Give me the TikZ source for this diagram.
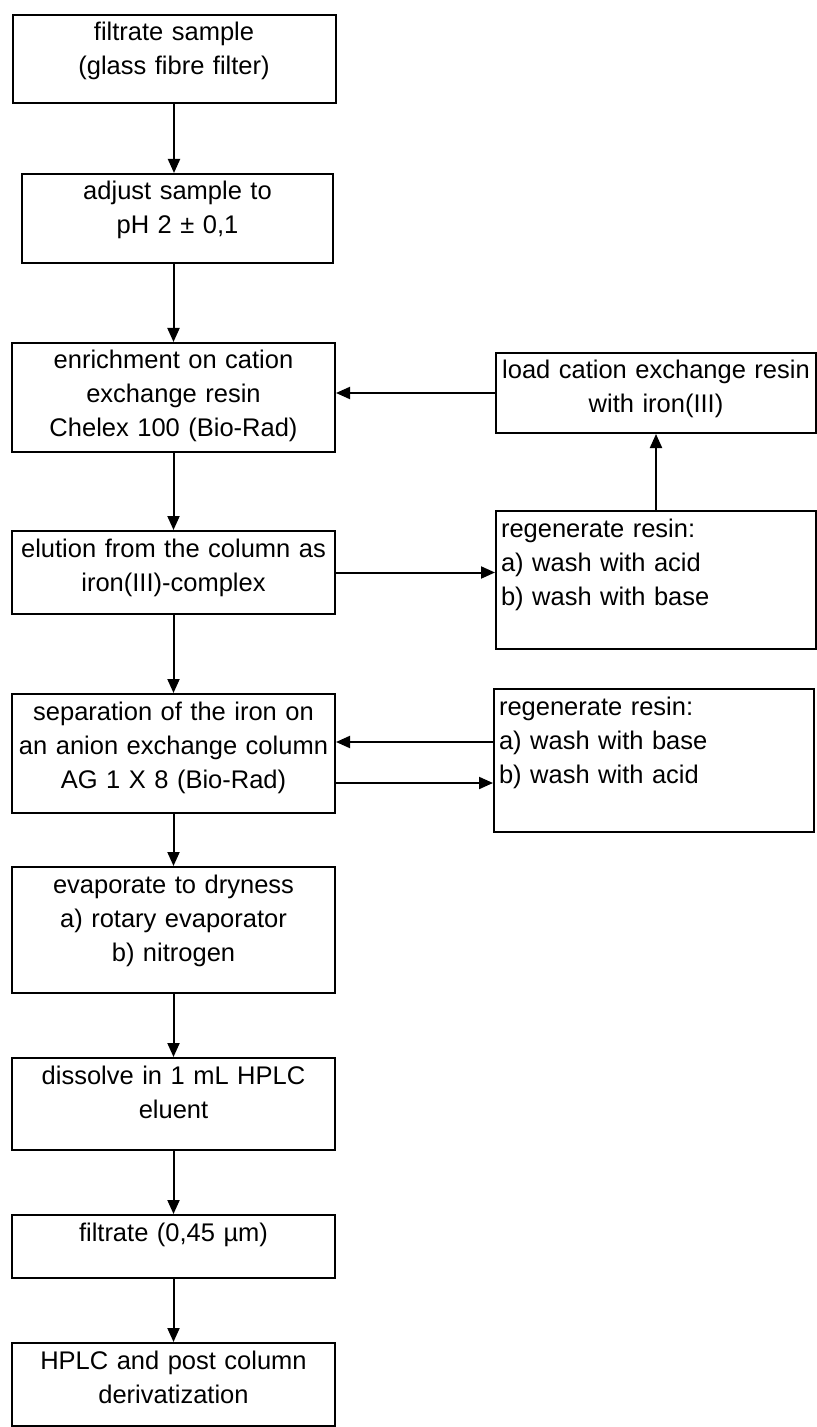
\documentclass[tikz,border=0pt]{standalone}
\usepackage{fontspec}
\setmainfont{Liberation Sans}
\usetikzlibrary{arrows.meta}
\begin{document}
\begin{tikzpicture}[x=0.5pt,y=-0.5pt,
  stepbox/.style={draw,rectangle,line width=1pt,anchor=north,inner xsep=2pt,inner ysep=0pt,
    text width=157.5pt,align=center,text height=13pt,font=\fontsize{12.75pt}{17pt}\selectfont},
  sidebox/.style={stepbox,text width=155pt,inner xsep=2.5pt},
  flow/.style={line width=1pt,-{Triangle[width=6pt,length=7pt]}}]
\useasboundingbox (0,0) rectangle (816,1427);
% main column
\node[stepbox,text depth=31pt] (sample) at (174,14) {filtrate sample\\(glass fibre filter)};
\node[stepbox,text width=151.5pt,text depth=31.5pt] (adjust) at (177.5,173) {adjust sample to\\pH 2 ± 0,1};
\node[stepbox,text depth=41.5pt] (enrich) at (173.5,342) {enrichment on cation\\exchange resin\\Chelex 100 (Bio-Rad)};
\node[stepbox,text depth=28.5pt] (elution) at (173.5,530) {elution from the column as\\iron(III)-complex};
\node[stepbox,text depth=46.5pt] (separation) at (173.5,693) {separation of the iron on\\an anion exchange column\\AG 1 X 8 (Bio-Rad)};
\node[stepbox,text depth=50pt] (evaporate) at (173.5,866) {evaporate to dryness\\a) rotary evaporator\\b) nitrogen};
\node[stepbox,text depth=33pt] (dissolve) at (173.5,1057) {dissolve in 1 mL HPLC\\eluent};
\node[stepbox,text depth=18.5pt] (filtrate) at (173.5,1214) {filtrate (0,45 µm)};
\node[stepbox,text depth=28.5pt] (hplc) at (173.5,1342) {HPLC and post column\\derivatization};
% side column
\node[sidebox,text depth=27pt] (load) at (656,352) {load cation exchange resin\\with iron(III)};
\node[sidebox,align=left,text depth=56pt] (regenA) at (656,510) {regenerate resin:\\a) wash with acid\\b) wash with base};
\node[sidebox,align=left,text depth=58.5pt] (regenB) at (654,688) {regenerate resin:\\a) wash with base\\b) wash with acid};
% connectors
\draw[flow] (sample.south) -- (sample.south |- adjust.north);
\draw[flow] (enrich.north |- adjust.south) -- (enrich.north);
\foreach \a/\b in {enrich/elution,elution/separation,separation/evaporate,
                   evaporate/dissolve,dissolve/filtrate,filtrate/hplc}
  \draw[flow] (\a) -- (\b);
\draw[flow] (load.west) -- (load.west -| enrich.east);
\draw[flow] (elution.east) -- (elution.east -| regenA.west);
\draw[flow] (regenA) -- (load);
\draw[flow] ([yshift=9.25pt]regenB.west) -- ([yshift=9.25pt]regenB.west -| separation.east);
\draw[flow] ([yshift=-11.25pt]regenB.west -| separation.east) -- ([yshift=-11.25pt]regenB.west);
\end{tikzpicture}
\end{document}
